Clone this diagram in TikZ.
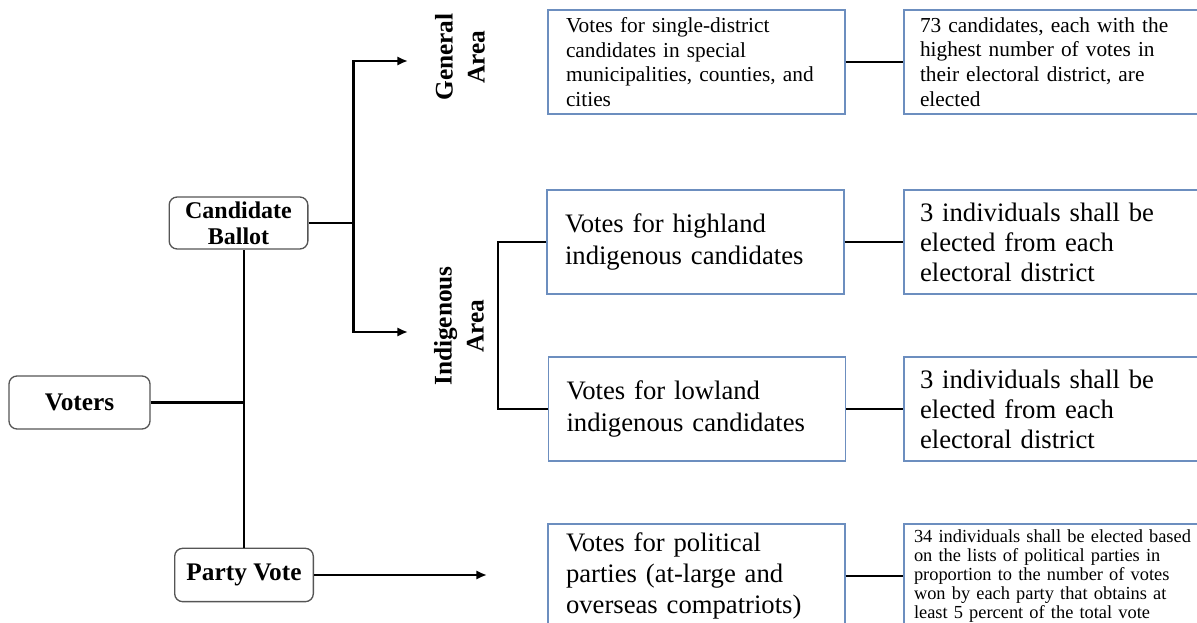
\documentclass[tikz,border=0pt]{standalone}
\usepackage{fontspec}
\setmainfont{Liberation Serif}
\usetikzlibrary{arrows.meta}
\definecolor{boxblue}{RGB}{108,142,191}
\definecolor{boxgray}{RGB}{85,85,85}
\tikzset{
  rbox/.style={draw=boxgray, line width=1pt, rounded corners=6pt, align=center, inner sep=0pt, font=\bfseries\fontsize{19}{21}\selectfont},
  bbox/.style={draw=boxblue, line width=1pt, minimum width=222.75pt, minimum height=78pt, text width=195.75pt, align=left, inner xsep=13.5pt, inner ysep=0pt, font=\fontsize{20}{23.5}\selectfont},
  rres/.style={bbox, minimum width=225pt, text width=201pt, inner xsep=12pt},
  area/.style={align=center, inner sep=0pt, font=\bfseries\fontsize{19}{24}\selectfont},
  tline/.style={line width=1.6pt},
  arr/.style={tline, -{Latex[length=8pt,width=7pt]}},
  link/.style={line width=1.8pt}
}
\begin{document}
\begin{tikzpicture}[x=0.75pt,y=-0.75pt]
\useasboundingbox (0,0) rectangle (1197,623);
\clip (0,0) rectangle (1197,623);

% ballots
\node[rbox, minimum width=105.75pt, minimum height=39.75pt] (voters) at (79.5,402.5) {Voters};
\node[rbox, minimum width=104pt, minimum height=39pt, font=\bfseries\fontsize{18}{19.5}\selectfont] (ballot) at (238.5,223) {Candidate\\Ballot};
\node[rbox, minimum width=104pt, minimum height=40pt] (party) at (244,575) {Party Vote};

% areas
\node[area, rotate=90] (general) at (460,57) {General\\Area};
\node[area, rotate=90] (indig) at (459,326) {Indigenous\\Area};
\coordinate (genin) at (408,61);
\coordinate (indin) at (408,332);
\coordinate (partyin) at (487,575);

% votes
\node[bbox, font=\fontsize{16}{18.5}\selectfont] (gensingle) at (696.5,62) {Votes for single-district\\candidates in special\\municipalities, counties, and\\cities};
\node[bbox] (highland) at (695.5,242) {Votes for highland\\indigenous candidates};
\node[bbox] (lowland) at (697,409) {Votes for lowland\\indigenous candidates};
\node[bbox] (partylist) at (696.5,576) {Votes for political\\parties (at-large and\\overseas compatriots)};

% results
\node[rres, font=\fontsize{16}{18.5}\selectfont] (genres) at (1054,62) {73 candidates, each with the\\highest number of votes in\\their electoral district, are\\elected};
\node[rres, font=\fontsize{20}{22.5}\selectfont] (highres) at (1054,242) {3 individuals shall be\\elected from each\\electoral district};
\node[rres, font=\fontsize{20}{22.5}\selectfont] (lowres) at (1054,409) {3 individuals shall be\\elected from each\\electoral district};
\node[rres, inner xsep=7.5pt, text width=210pt, font=\fontsize{13.8}{14.4}\selectfont] (partyres) at (1054,576) {34 individuals shall be elected based\\on the lists of political parties in\\proportion to the number of votes\\won by each party that obtains at\\least 5 percent of the total vote};

% tree
\draw[tline] (party.north) -- (party.north |- ballot.south);
\draw[tline] (voters.east) -- (voters.east -| party.north);
\draw[tline] (ballot.east) -- ++(45,0) coordinate (split);
\draw[arr] (split) |- (genin);
\draw[arr] (split) |- (indin);
\draw[arr] (party.east) -- (partyin);
\draw[tline] (highland.west) -- ++(-48,0) |- (lowland.west);

\draw[link] (gensingle.east) -- (genres.west);
\draw[link] (highland.east) -- (highres.west);
\draw[link] (lowland.east) -- (lowres.west);
\draw[link] (partylist.east) -- (partyres.west);
\end{tikzpicture}
\end{document}
